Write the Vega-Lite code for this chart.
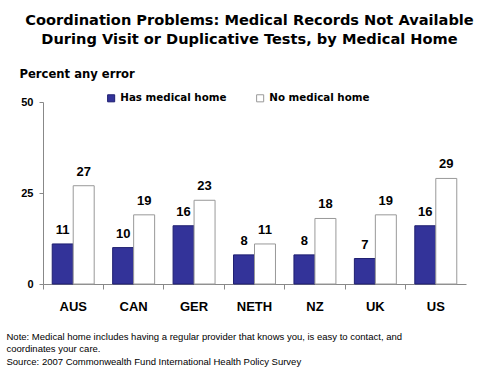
{
  "$schema": "https://vega.github.io/schema/vega-lite/v6.json",
  "width": 423,
  "height": 182,
  "autosize": {"type": "none"},
  "padding": {"left": 43, "top": 102, "right": 24, "bottom": 85},
  "background": "white",
  "title": {
    "text": ["Coordination Problems: Medical Records Not Available", "During Visit or Duplicative Tests, by Medical Home"],
    "font": "DejaVu Sans",
    "fontSize": 14.6,
    "fontWeight": "bold",
    "color": "black",
    "lineHeight": 19,
    "anchor": "middle",
    "baseline": "alphabetic",
    "offset": 9,
    "dx": -5
  },
  "data": {
    "values": [
      {"country": "AUS", "group": "Has medical home", "value": 11},
      {"country": "AUS", "group": "No medical home", "value": 27},
      {"country": "CAN", "group": "Has medical home", "value": 10},
      {"country": "CAN", "group": "No medical home", "value": 19},
      {"country": "GER", "group": "Has medical home", "value": 16},
      {"country": "GER", "group": "No medical home", "value": 23},
      {"country": "NETH", "group": "Has medical home", "value": 8},
      {"country": "NETH", "group": "No medical home", "value": 11},
      {"country": "NZ", "group": "Has medical home", "value": 8},
      {"country": "NZ", "group": "No medical home", "value": 18},
      {"country": "UK", "group": "Has medical home", "value": 7},
      {"country": "UK", "group": "No medical home", "value": 19},
      {"country": "US", "group": "Has medical home", "value": 16},
      {"country": "US", "group": "No medical home", "value": 29}
    ]
  },
  "encoding": {
    "x": {
      "field": "country",
      "type": "nominal",
      "sort": null,
      "scale": {"paddingInner": 0, "paddingOuter": 0},
      "axis": {
        "bandPosition": 0,
        "labelAngle": 0,
        "labelFont": "Liberation Sans",
        "labelFontSize": 13,
        "labelFontWeight": "bold",
        "labelColor": "black",
        "labelPadding": 21,
        "labelBaseline": "alphabetic",
        "labelOffset": 0,
        "domainColor": "#888888",
        "tickColor": "#888888",
        "tickSize": 5,
        "title": ["Note: Medical home includes having a regular provider that knows you, is easy to contact, and", "coordinates your care.", "Source: 2007 Commonwealth Fund International Health Policy Survey"],
        "titleFont": "Liberation Sans",
        "titleFontSize": 9.5,
        "titleFontWeight": "normal",
        "titleColor": "black",
        "titleAnchor": "start",
        "titleAlign": "left",
        "titleBaseline": "alphabetic",
        "titleLineHeight": 12.5,
        "titleX": -37,
        "titleY": 55
      }
    },
    "xOffset": {
      "field": "group",
      "type": "nominal",
      "scale": {"paddingInner": 0, "paddingOuter": 0.44}
    },
    "y": {
      "field": "value",
      "type": "quantitative",
      "scale": {"domain": [0, 50]},
      "axis": {
        "values": [0, 25, 50],
        "grid": false,
        "labelFont": "Liberation Sans",
        "labelFontSize": 11,
        "labelFontWeight": "bold",
        "labelColor": "black",
        "labelPadding": 6,
        "domainColor": "#888888",
        "tickColor": "#888888",
        "tickSize": 4,
        "title": "Percent any error",
        "titleFont": "DejaVu Sans",
        "titleFontSize": 11.6,
        "titleFontWeight": "bold",
        "titleColor": "black",
        "titleAngle": 0,
        "titleAlign": "left",
        "titleBaseline": "alphabetic",
        "titleX": -24,
        "titleY": -25
      }
    }
  },
  "layer": [
    {
      "mark": {"type": "bar", "strokeWidth": 1},
      "encoding": {
        "color": {
          "field": "group",
          "type": "nominal",
          "scale": {"domain": ["Has medical home", "No medical home"], "range": ["#333399", "#ffffff"]},
          "legend": {
            "title": null,
            "orient": "none",
            "legendX": 63,
            "legendY": -9,
            "direction": "horizontal",
            "columns": 2,
            "columnPadding": 27,
            "symbolType": "square",
            "symbolSize": 50,
            "symbolStrokeWidth": 1,
            "labelFont": "DejaVu Sans",
            "labelFontSize": 10.3,
            "labelFontWeight": "bold",
            "labelColor": "black",
            "labelOffset": 4
          }
        },
        "stroke": {
          "field": "group",
          "type": "nominal",
          "scale": {"domain": ["Has medical home", "No medical home"], "range": ["#1f1f70", "#999999"]},
          "legend": null
        }
      }
    },
    {
      "mark": {
        "type": "text",
        "dy": -10,
        "baseline": "alphabetic",
        "font": "Liberation Sans",
        "fontSize": 13,
        "fontWeight": "bold",
        "color": "black"
      },
      "encoding": {
        "text": {"field": "value", "type": "quantitative"}
      }
    }
  ],
  "config": {
    "view": {"stroke": null}
  }
}
